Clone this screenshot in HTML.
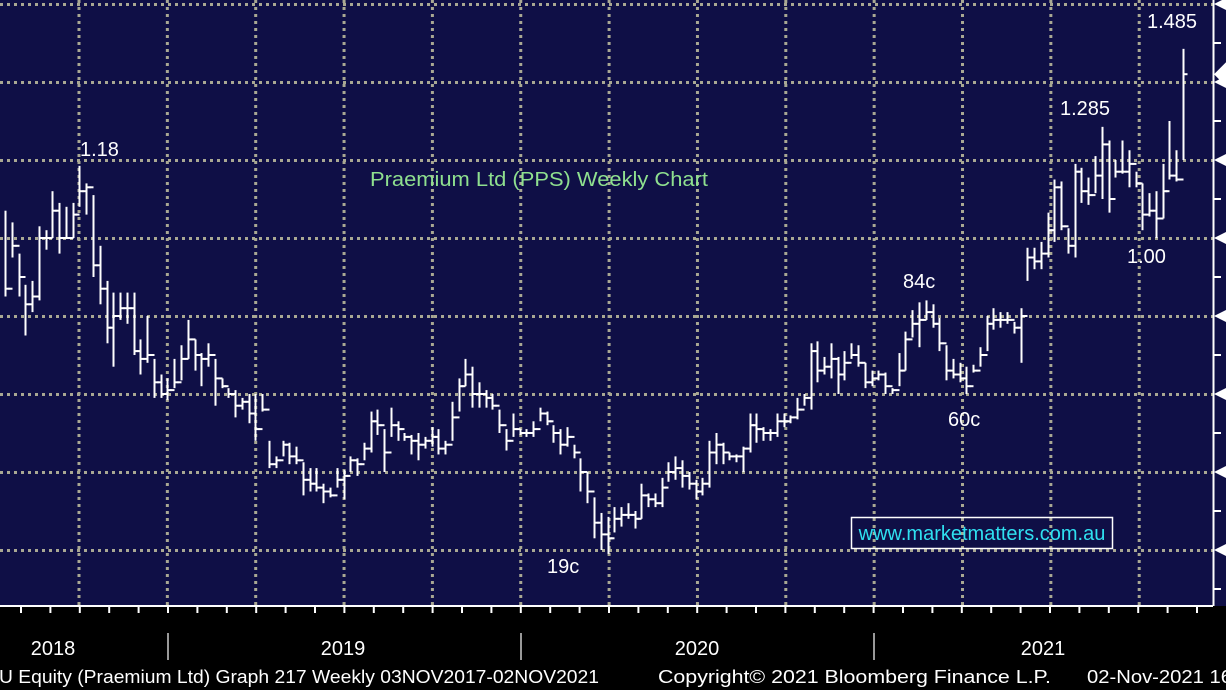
<!DOCTYPE html>
<html><head><meta charset="utf-8"><style>
html,body{margin:0;padding:0;background:#000;}
svg{display:block;font-family:"Liberation Sans",sans-serif;}
</style></head><body>
<svg id="chart" width="1226" height="690" viewBox="0 0 1226 690">
<rect x="0" y="0" width="1226" height="606" fill="#0f0f46"/>
<rect x="0" y="606" width="1226" height="84" fill="#000"/>
<g id="grid"></g>
<g id="bars"></g>
<g id="axes"></g>
<text x="370" y="186" fill="#8fe08f" font-size="20" textLength="338" lengthAdjust="spacingAndGlyphs">Praemium Ltd (PPS) Weekly Chart</text>
<g fill="#fff" font-size="20">
<text x="80" y="156">1.18</text>
<text x="1147" y="28">1.485</text>
<text x="1060" y="115">1.285</text>
<text x="1127" y="263">1.00</text>
<text x="903" y="288">84c</text>
<text x="948" y="426">60c</text>
<text x="547" y="573">19c</text>
</g>
<rect x="851.5" y="517.5" width="261" height="31" fill="none" stroke="#fff" stroke-width="1.5"/>
<text x="982" y="540" text-anchor="middle" fill="#2fe0f0" font-size="20">www.marketmatters.com.au</text>
<g fill="#fff" font-size="20" text-anchor="middle">
<text x="53" y="655">2018</text>
<text x="343" y="655">2019</text>
<text x="697" y="655">2020</text>
<text x="1043" y="655">2021</text>
</g>
<g fill="#fff" font-size="18">
<text x="-1" y="683" textLength="600" lengthAdjust="spacingAndGlyphs">U Equity (Praemium Ltd) Graph 217  Weekly 03NOV2017-02NOV2021</text>
<text x="658" y="683" textLength="393" lengthAdjust="spacingAndGlyphs">Copyright© 2021 Bloomberg Finance L.P.</text>
<text x="1087" y="683" textLength="145" lengthAdjust="spacingAndGlyphs">02-Nov-2021 16</text>
</g>
</svg>
<script>
const highs=[1.07,1.04,0.96,0.88,0.89,1.03,1.02,1.12,1.09,1.08,1.09,1.185,1.14,1.11,0.98,0.89,0.86,0.86,0.86,0.86,0.74,0.80,0.69,0.65,0.64,0.69,0.725,0.79,0.74,0.705,0.73,0.69,0.64,0.615,0.61,0.59,0.60,0.60,0.60,0.48,
0.44,0.48,0.475,0.465,0.425,0.41,0.41,0.37,0.36,0.41,0.405,0.44,0.435,0.475,0.555,0.56,0.51,0.565,0.53,0.50,0.495,0.50,0.49,0.515,0.51,0.48,0.58,0.64,0.69,0.67,0.63,0.61,0.60,0.56,0.51,0.55,0.51,0.51,0.53,0.565,0.555,0.52,0.51,0.515,0.47,0.435,0.40,0.335,0.295,
0.285,0.31,0.31,0.32,0.30,0.37,0.345,0.345,0.385,0.425,0.44,0.43,0.40,0.38,0.385,0.48,0.50,0.475,0.45,0.445,0.465,0.55,0.55,0.515,0.51,0.55,0.55,0.545,0.59,0.60,0.73,0.735,0.695,0.73,0.695,0.71,0.73,0.725,0.68,0.66,0.66,0.655,0.615,0.705,0.76,0.815,0.835,0.84,0.83,0.795,0.725,0.69,0.68,0.67,0.675,0.72,0.80,0.82,0.81,0.81,0.785,0.82,
0.975,0.975,0.99,1.065,1.15,1.145,1.025,1.19,1.18,1.155,1.21,1.285,1.25,1.20,1.25,1.225,1.17,1.14,1.115,1.12,1.19,1.30,1.225,1.485];
const lows=[0.85,0.95,0.85,0.75,0.81,0.84,0.97,1.00,0.96,1.00,1.00,1.08,1.06,0.90,0.83,0.73,0.67,0.79,0.78,0.70,0.65,0.68,0.59,0.59,0.585,0.615,0.635,0.69,0.66,0.62,0.67,0.57,0.615,0.59,0.54,0.56,0.525,0.48,0.555,0.41,
0.41,0.44,0.42,0.42,0.34,0.35,0.35,0.32,0.335,0.36,0.33,0.40,0.39,0.43,0.45,0.495,0.40,0.49,0.48,0.48,0.445,0.43,0.46,0.465,0.445,0.445,0.48,0.555,0.62,0.565,0.565,0.565,0.56,0.50,0.455,0.49,0.495,0.49,0.49,0.53,0.52,0.475,0.445,0.465,0.435,0.35,0.32,0.23,0.20,
0.19,0.245,0.26,0.28,0.255,0.28,0.31,0.31,0.31,0.375,0.38,0.36,0.355,0.33,0.34,0.36,0.42,0.42,0.43,0.425,0.40,0.45,0.475,0.48,0.48,0.49,0.515,0.525,0.535,0.57,0.56,0.63,0.65,0.64,0.60,0.635,0.69,0.67,0.615,0.62,0.635,0.60,0.60,0.62,0.66,0.745,0.72,0.79,0.77,0.71,0.635,0.64,0.63,0.60,0.655,0.67,0.71,0.765,0.77,0.78,0.755,0.68,
0.89,0.92,0.92,0.95,0.99,1.02,0.96,0.95,1.09,1.085,1.115,1.10,1.065,1.155,1.165,1.13,1.13,1.02,1.055,1.00,1.05,1.15,1.145,1.20];
const closes=[0.87,0.98,0.90,0.83,0.85,1.00,1.00,1.07,1.00,1.00,1.06,1.12,1.13,0.93,0.87,0.77,0.80,0.82,0.82,0.71,0.69,0.70,0.63,0.60,0.61,0.63,0.69,0.74,0.70,0.69,0.70,0.64,0.62,0.60,0.57,0.58,0.55,0.51,0.56,0.42,
0.43,0.47,0.44,0.43,0.38,0.37,0.36,0.35,0.34,0.38,0.39,0.43,0.42,0.46,0.53,0.52,0.45,0.52,0.51,0.49,0.48,0.47,0.48,0.49,0.46,0.47,0.54,0.62,0.65,0.60,0.60,0.59,0.57,0.52,0.48,0.51,0.50,0.50,0.51,0.55,0.53,0.50,0.47,0.49,0.45,0.40,0.35,0.27,0.24,
0.23,0.28,0.29,0.29,0.28,0.34,0.33,0.32,0.36,0.40,0.41,0.39,0.37,0.35,0.37,0.45,0.47,0.45,0.44,0.44,0.46,0.52,0.51,0.50,0.50,0.53,0.53,0.54,0.56,0.59,0.71,0.66,0.67,0.69,0.65,0.68,0.70,0.68,0.63,0.64,0.65,0.62,0.61,0.66,0.74,0.78,0.79,0.81,0.78,0.73,0.66,0.65,0.64,0.62,0.66,0.70,0.78,0.79,0.79,0.79,0.77,0.80,
0.95,0.94,0.96,1.02,1.13,1.03,0.98,1.17,1.12,1.11,1.16,1.24,1.10,1.17,1.17,1.19,1.14,1.06,1.07,1.05,1.12,1.16,1.15,1.42];
const priceTicks=[1.6,1.4,1.2,1.0,0.8,0.6,0.4,0.2];
const yearDividers=[168,521,874];

const NS='http://www.w3.org/2000/svg';
function yScale(p){return 238-(p-1)*390;}
const n=highs.length;
const step=1178/(n-1);
function xScale(i){return 5+i*step;}
function mk(tag,attrs,parent){const e=document.createElementNS(NS,tag);for(const k in attrs)e.setAttribute(k,attrs[k]);parent.appendChild(e);return e;}

const grid=document.getElementById('grid');
priceTicks.forEach(p=>{
  const y=Math.round(yScale(p))+0.5;
  const l=mk('line',{x1:0,x2:1213,y1:y,y2:y,stroke:'#a9a893','stroke-width':3,'stroke-dasharray':'3 4'},grid);
  
  
});
for(let k=0;k<13;k++){
  const x=79+88.35*k;
  const l=mk('line',{x1:x,x2:x,y1:0,y2:606,stroke:'#a9a893','stroke-width':3,'stroke-dasharray':'3 4'},grid);
  
  
}

const bars=document.getElementById('bars');
for(let i=0;i<n;i++){
  const x=Math.round(xScale(i))+0.5;
  const g=mk('g',{stroke:'#fff','stroke-width':2},bars);
  
  
  mk('line',{x1:x,x2:x,y1:yScale(highs[i]),y2:yScale(lows[i])},g);
  const yc=yScale(closes[i]);
  mk('line',{x1:x,x2:x+4,y1:yc,y2:yc},g);
  if(i>0){const yo=yScale(closes[i-1]);mk('line',{x1:x-4,x2:x,y1:yo,y2:yo},g);}
}

const axes=document.getElementById('axes');
const ra=mk('line',{x1:1213.5,x2:1213.5,y1:0,y2:606,stroke:'#fff','stroke-width':2},axes);


priceTicks.forEach(p=>{
  const y=yScale(p);
  const t=mk('polygon',{points:`1214,${y} 1226,${y-6} 1226,${y+6}`,fill:'#fff'},axes);
  
  
  const ym=yScale(p-0.1);
  const tk=mk('line',{x1:1213,x2:1221,y1:ym,y2:ym,stroke:'#fff','stroke-width':2},axes);
  
  
});
const lastY=yScale(closes[n-1]);
const ptr=mk('polygon',{points:`1214,${lastY} 1226,${lastY-12} 1226,${lastY+12}`,fill:'#fff'},axes);



const ba=mk('line',{x1:0,x2:1213,y1:606,y2:606,stroke:'#fff','stroke-width':2},axes);


for(let k=-6;k<=36;k++){
  const x=168+k*29.4;
  if(x<0||x>1213)continue;
  const m=mk('line',{x1:x,x2:x,y1:606,y2:613,stroke:'#fff','stroke-width':2},axes);
  
  
}
yearDividers.forEach(x=>{
  const d=mk('line',{x1:x,x2:x,y1:633,y2:660,stroke:'#999','stroke-width':2},axes);
  
  
});
</script>
</body></html>
